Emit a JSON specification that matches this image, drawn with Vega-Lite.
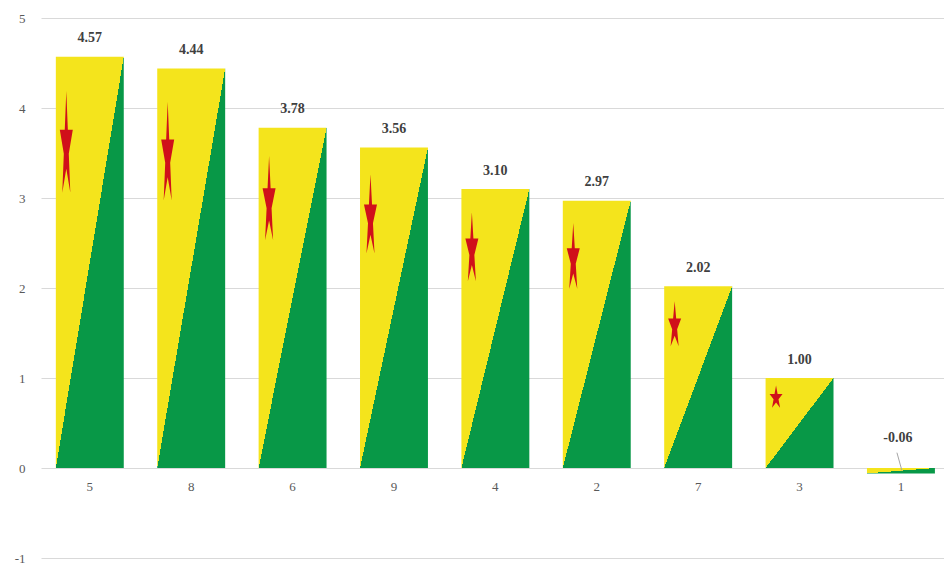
{
  "$schema": "https://vega.github.io/schema/vega-lite/v6.json",
  "width": 903,
  "height": 540,
  "autosize": {"type": "none"},
  "padding": {"left": 41, "top": 18, "right": 0, "bottom": 7},
  "background": "white",
  "config": {"view": {"stroke": null}, "font": "Liberation Serif"},
  "data": {
    "values": [
      {"cat": "5", "value": 4.57},
      {"cat": "8", "value": 4.44},
      {"cat": "6", "value": 3.78},
      {"cat": "9", "value": 3.56},
      {"cat": "4", "value": 3.10},
      {"cat": "2", "value": 2.97},
      {"cat": "7", "value": 2.02},
      {"cat": "3", "value": 1.00},
      {"cat": "1", "value": -0.06}
    ]
  },
  "transform": [
    {"calculate": "replace(format(datum.value, '.2f'), '\u2212', '-')", "as": "label"}
  ],
  "encoding": {
    "x": {
      "field": "cat",
      "type": "nominal",
      "sort": null,
      "scale": {"paddingInner": 0.33, "paddingOuter": 0.118, "align": 0.62},
      "axis": {
        "orient": "bottom",
        "offset": -90,
        "domain": false,
        "ticks": false,
        "grid": false,
        "labelAngle": 0,
        "labelPadding": 12,
        "labelColor": "#595959",
        "labelFontSize": 13,
        "title": null
      }
    }
  },
  "layer": [
    {
      "mark": {
        "type": "bar",
        "stroke": null,
        "fill": {
          "gradient": "linear",
          "x1": 0, "y1": 0, "x2": 1, "y2": 1,
          "stops": [
            {"offset": 0, "color": "#f4e41c"},
            {"offset": 0.5, "color": "#f4e41c"},
            {"offset": 0.5, "color": "#089847"},
            {"offset": 1, "color": "#089847"}
          ]
        }
      },
      "encoding": {
        "y": {
          "field": "value",
          "type": "quantitative",
          "scale": {"domain": [-1, 5], "nice": false},
          "axis": {
            "values": [-1, 0, 1, 2, 3, 4, 5],
            "labelExpr": "'' + datum.value",
            "grid": true,
            "gridColor": "#d9d9d9",
            "domain": false,
            "ticks": false,
            "labelPadding": 16,
            "labelColor": "#595959",
            "labelFontSize": 13,
            "title": null
          }
        }
      }
    },
    {
      "transform": [
        {"filter": "datum.value > 0.5"},
        {"calculate": "datum.value * 0.78", "as": "starY"}
      ],
      "mark": {
        "type": "point",
        "filled": true,
        "fill": "#d0101a",
        "stroke": null,
        "opacity": 1,
        "size": 187,
        "xOffset": -23.5,
        "shape": {"expr": "'M0,' + (-1*1.8*datum.value) + 'L0.225,' + (-0.309*1.8*datum.value) + 'L0.951,' + (-0.309*1.8*datum.value) + 'L0.363,' + (0.118*1.8*datum.value) + 'L0.588,' + (0.809*1.8*datum.value) + 'L0,' + (0.382*1.8*datum.value) + 'L-0.588,' + (0.809*1.8*datum.value) + 'L-0.363,' + (0.118*1.8*datum.value) + 'L-0.951,' + (-0.309*1.8*datum.value) + 'L-0.225,' + (-0.309*1.8*datum.value) + 'Z'"}
      },
      "encoding": {
        "y": {"field": "starY", "type": "quantitative"}
      }
    },
    {
      "transform": [{"filter": "datum.value >= 0"}],
      "mark": {
        "type": "text",
        "fontWeight": "bold",
        "fontSize": 14,
        "color": "#404040",
        "baseline": "middle",
        "dy": -18.5
      },
      "encoding": {
        "y": {"field": "value", "type": "quantitative"},
        "text": {"field": "label"}
      }
    },
    {
      "transform": [{"filter": "datum.value < 0"}],
      "mark": {"type": "rule", "color": "#a6a6a6", "strokeWidth": 1, "xOffset": -4, "x2Offset": 1},
      "encoding": {
        "x2": {"field": "cat"},
        "y": {"datum": 0.17},
        "y2": {"datum": -0.03}
      }
    },
    {
      "transform": [{"filter": "datum.value < 0"}],
      "mark": {
        "type": "text",
        "fontWeight": "bold",
        "fontSize": 14,
        "color": "#404040",
        "baseline": "middle",
        "dx": -3,
        "dy": -30
      },
      "encoding": {
        "y": {"datum": 0},
        "text": {"field": "label"}
      }
    }
  ]
}
